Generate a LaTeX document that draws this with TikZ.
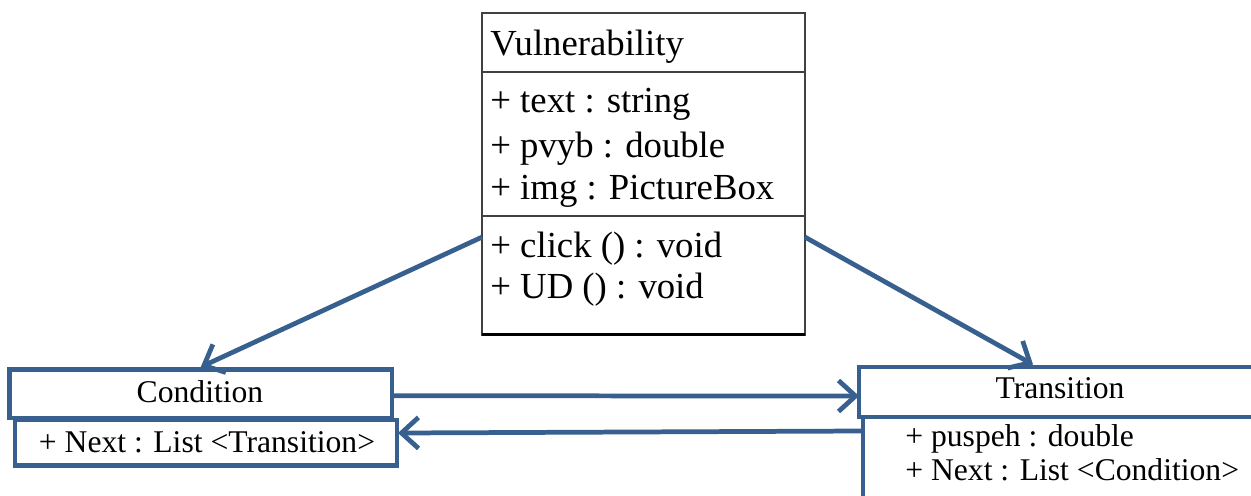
\documentclass[tikz,border=0pt]{standalone}
\usepackage{fontspec}
\setmainfont{Liberation Serif}
\usetikzlibrary{arrows.meta,calc}
\definecolor{umlblue}{RGB}{56,96,143}
\begin{document}
\begin{tikzpicture}[x=0.02cm,y=-0.02cm,
  bluebox/.style={draw=umlblue,line width=2.7pt,inner sep=0pt,outer sep=0pt,fill=white},
  conn/.style={draw=umlblue,line width=2.7pt,-{Straight Barb[length=0.34cm,width=0.62cm]}},
  big/.style={font=\fontsize{20.9pt}{25pt}\selectfont,inner sep=0pt,anchor=base west},
  small/.style={font=\fontsize{18pt}{22pt}\selectfont,inner sep=0pt,anchor=base},
  smallw/.style={small,anchor=base west},
]
\useasboundingbox (0,0) rectangle (1251,495);
\fill[white] (0,0) rectangle (1251,495);
\clip (0,0) rectangle (1251,495);

% Vulnerability class
\node[draw=black!75,line width=0.8pt,inner sep=0pt,outer sep=0pt,
      minimum width=6.46cm,minimum height=6.44cm] (vul) at (643.5,174) {};
\draw[black!75,line width=0.8pt] (vul.west |- 0,72) -- (vul.east |- 0,72);
\draw[black!75,line width=0.8pt] (vul.west |- 0,216) -- (vul.east |- 0,216);
\draw[black,line width=1.7pt] (vul.south west) -- (vul.south east);
\node[big] (vname) at (490,55) {Vulnerability};
\node[big] (va1) at (490,112) {+ text : string};
\node[big] (va2) at (490,157) {+ pvyb : double};
\node[big] (va3) at (490,199) {+ img : PictureBox};
\node[big] (vm1) at (490,257) {+ click () : void};
\node[big] (vm2) at (490,298) {+ UD () : void};

% Condition class
\node[bluebox,minimum width=7.64cm,minimum height=0.91cm] (condattr) at (206,442.75) {};
\node[bluebox,minimum width=7.65cm,minimum height=0.97cm] (cond) at (200.75,393.75) {};
\node[small] (condname) at (200,402) {Condition};
\node[small] (condtext) at (207,452) {+ Next : List <Transition>};

% Transition class
\node[bluebox,minimum width=7.94cm,minimum height=1.76cm] (transattr) at (1061.5,461) {};
\node[bluebox,minimum width=8.02cm,minimum height=1.0cm] (trans) at (1059.5,392) {};
\node[small] (transname) at (1060,398) {Transition};
\node[smallw] (ta1) at (905,446) {+ puspeh : double};
\node[smallw] (ta2) at (905,480) {+ Next : List <Condition>};

% connectors
\draw[conn] ($(vul.north west)!0.696!(vul.south west)$) -- ([yshift=0.05cm]cond.north);
\draw[conn] ($(vul.north east)!0.696!(vul.south east)$) -- ([xshift=-0.53cm,yshift=0.05cm]trans.north);
\draw[conn] ([yshift=-0.04cm]cond.east) -- ([yshift=-0.08cm]trans.west);
\draw[conn] ($(trans.south west)+(2,14)$) -- ($(condattr.north east)+(1,13)$);
\end{tikzpicture}
\end{document}
